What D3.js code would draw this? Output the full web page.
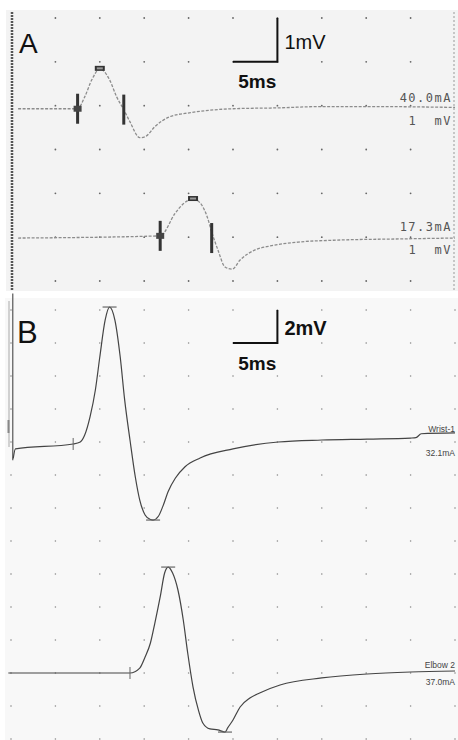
<!DOCTYPE html>
<html>
<head>
<meta charset="utf-8">
<title>Nerve conduction traces</title>
<script src="https://d3js.org/d3.v7.min.js"></script>
<style>
    body { margin: 0; background: #fff; }
    svg { display: block; }
    text { font-family: "Liberation Sans", Arial, sans-serif; }
    .mono { font-family: "DejaVu Sans Mono", monospace; }
</style>
</head>
<body>
<svg id="chart" width="458" height="740"></svg>
<script>
// time in ms, amplitude in mV relative to each trace's own baseline
const tA1 = [0.8, 7.5, 8.3, 9.1, 10.0, 11.1, 11.9, 12.7, 13.4, 14.5, 15.1, 16.2, 17.9, 20.2, 25.0, 30.1, 35.0, 40.1, 50.0];
const vA1 = [0, 0, 0.27, 0.66, 0.91, 0.66, 0.27, -0.02, -0.30, -0.66, -0.64, -0.41, -0.18, -0.09, 0, 0.02, 0.05, 0.05, 0.03];

const tA2 = [0.8, 16.8, 18.5, 19.4, 20.5, 21.3, 22.1, 22.6, 23.3, 24.1, 24.9, 25.8, 27.5, 29.2, 32.5, 36.3, 43.8, 50.0];
const vA2 = [0, 0.05, 0.57, 0.78, 0.89, 0.80, 0.48, 0.14, -0.27, -0.66, -0.71, -0.50, -0.27, -0.18, -0.09, -0.05, -0.02, 0];

const tB1 = [0.25, 0.5, 7.0, 7.8, 8.3, 8.9, 9.5, 10.0, 10.6, 11.1, 11.7, 12.3, 12.8, 13.4, 14.0, 14.5, 15.1, 15.7, 16.0, 16.6, 17.1, 17.7, 18.5, 19.6, 21.3, 25.0, 30.1, 35.0, 40.1, 45.0, 45.6, 46.2, 50.0];
const vB1 = [-1.0, -0.42, -0.12, 0, 0.42, 1.52, 3.15, 5.15, 7.39, 8.18, 7.39, 5.15, 2.55, 0.12, -2.12, -3.52, -4.42, -4.70, -4.73, -4.5, -3.9, -3.0, -2.2, -1.5, -0.97, -0.42, 0, 0.12, 0.18, 0.24, 0.26, 0.5, 0.55];

const tB2 = [-0.3, 13.4, 14.5, 15.1, 15.7, 16.2, 16.8, 17.3, 17.7, 18.2, 18.8, 19.4, 19.9, 20.5, 21.1, 21.6, 22.4, 23.3, 24.1, 24.4, 25.0, 25.8, 26.9, 28.0, 30.3, 35.0, 40.1, 45.0, 50.0];
const vB2 = [0, 0, 0.30, 0.97, 1.82, 3.03, 4.61, 6.06, 6.42, 6.06, 5.03, 3.21, 1.21, -0.85, -2.24, -3.03, -3.39, -3.45, -3.58, -3.33, -2.85, -2.06, -1.52, -1.21, -0.73, -0.30, -0.06, 0.06, 0.12];

// markers: [time, amplitude]
const barsA1 = [[7.5, 0], [12.7, -0.02]];
const peakA1 = [10.0, 0.91];
const barsA2 = [[16.8, 0.05], [22.6, 0]];
const peakA2 = [20.5, 0.89];
const onsetB = [[7.0, -0.12], [13.4, 0]];
const extremaB1 = [[11.1, 8.18], [16.0, -4.73]];
const extremaB2 = [[17.7, 6.42], [24.1, -3.58]];

// stimulus artifact in B (ms, top mV, bottom mV)
const artifactB1 = [0.2, 9.0, -1.1];

const labelsA1 = ["40.0mA", "1 mV"];
const labelsA2 = ["17.3mA", "1 mV"];
const labelsB1 = ["Wrist-1", "32.1mA"];
const labelsB2 = ["Elbow 2", "37.0mA"];

const svg = d3.select("#chart");

const x = d3.scaleLinear().domain([0, 50]).range([11, 455]);
const yA = d3.scaleLinear().domain([0, 6]).range([281, 18]);
const yB = d3.scaleLinear().domain([0, 26]).range([739, 310]);

// baseline levels of each trace on the panel scales
const baseA1 = 3.93, baseA2 = 0.98, baseB1 = 18, baseB2 = 4;

// ---------- panel A ----------
svg.append("rect").attr("x", 6).attr("y", 10).attr("width", 452).attr("height", 281).attr("fill", "#f3f3f3");
svg.append("line").attr("x1", 12).attr("x2", 12).attr("y1", 12).attr("y2", 290)
    .attr("stroke", "#555").attr("stroke-width", 2.5).attr("stroke-dasharray", "2,1");
svg.append("line").attr("x1", 454).attr("x2", 454).attr("y1", 12).attr("y2", 290)
    .attr("stroke", "#999").attr("stroke-width", 1).attr("stroke-dasharray", "2,2");

const gridA = [];
d3.range(5, 50, 5).forEach(t => d3.range(0, 7).forEach(v => gridA.push([t, v])));
svg.append("g").selectAll("circle").data(gridA).join("circle")
    .attr("cx", d => x(d[0])).attr("cy", d => yA(d[1])).attr("r", 0.9).attr("fill", "#666");

function traceA(ts, vs, base) {
    const pts = ts.map((t, i) => [t, vs[i] + base]);
    svg.append("path").datum(pts)
        .attr("fill", "none").attr("stroke", "#8c8c8c").attr("stroke-width", 1.3)
        .attr("stroke-dasharray", "3,1.5")
        .attr("d", d3.line().x(d => x(d[0])).y(d => yA(d[1])).curve(d3.curveMonotoneX));
}
traceA(tA1, vA1, baseA1);
traceA(tA2, vA2, baseA2);

function markersA(bars, peak, base) {
    const g = svg.append("g").attr("fill", "#333");
    bars.forEach(b => {
        g.append("rect").attr("x", x(b[0]) - 1.5).attr("y", yA(b[1] + base) - 15)
            .attr("width", 3).attr("height", 30);
    });
    const on = bars[0];
    g.append("rect").attr("x", x(on[0]) - 4).attr("y", yA(on[1] + base) - 3)
        .attr("width", 8).attr("height", 6).attr("fill", "#444");
    g.append("rect").attr("x", x(peak[0]) - 5).attr("y", yA(peak[1] + base) - 3)
        .attr("width", 10).attr("height", 5).attr("fill", "#333");
    g.append("rect").attr("x", x(peak[0]) - 3).attr("y", yA(peak[1] + base) - 1.5)
        .attr("width", 6).attr("height", 2).attr("fill", "#999");
}
markersA(barsA1, peakA1, baseA1);
markersA(barsA2, peakA2, baseA2);

function labelA(lines, base) {
    const y0 = yA(base);
    svg.append("text").attr("class", "mono").attr("x", 452).attr("y", y0 - 7)
        .attr("text-anchor", "end").attr("font-size", 12).attr("letter-spacing", 1.5)
        .attr("fill", "#555").text(lines[0]);
    svg.append("text").attr("class", "mono").attr("x", 452).attr("y", y0 + 16)
        .attr("text-anchor", "end").attr("font-size", 12).attr("letter-spacing", 1.5)
        .attr("fill", "#555").text(lines[1].replace(" ", "\u00a0\u00a0"));
}
labelA(labelsA1, baseA1);
labelA(labelsA2, baseA2);

// scale bar A: 5 ms x 1 mV
svg.append("path")
    .attr("d", `M${x(25)},${yA(5)}H${x(30)}V${yA(6)}`)
    .attr("fill", "none").attr("stroke", "#111").attr("stroke-width", 2);
svg.append("text").attr("x", x(30) + 7).attr("y", 49).attr("font-size", 20).attr("fill", "#111").text("1mV");
svg.append("text").attr("x", (x(25) + x(30)) / 2 + 2).attr("y", 88).attr("text-anchor", "middle")
    .attr("font-size", 19).attr("font-weight", "bold").attr("fill", "#111").text("5ms");
svg.append("text").attr("x", 19).attr("y", 53).attr("font-size", 28).attr("fill", "#111").text("A");

// ---------- panel B ----------
svg.append("rect").attr("x", 5).attr("y", 298).attr("width", 453).attr("height", 442).attr("fill", "#f8f8f8");
svg.append("line").attr("x1", 9).attr("x2", 9).attr("y1", 301).attr("y2", 447)
    .attr("stroke", "#aaa").attr("stroke-width", 1);
svg.append("line").attr("x1", 8.5).attr("x2", 8.5).attr("y1", 420).attr("y2", 433)
    .attr("stroke", "#888").attr("stroke-width", 2);

const gridB = [];
d3.range(0, 55, 5).forEach(t => d3.range(0, 28, 2).forEach(v => gridB.push([t, v])));
svg.append("g").selectAll("circle").data(gridB).join("circle")
    .attr("cx", d => x(d[0])).attr("cy", d => yB(d[1])).attr("r", 0.8).attr("fill", "#8a8a8a");

// artifact
svg.append("line")
    .attr("x1", x(artifactB1[0])).attr("x2", x(artifactB1[0]))
    .attr("y1", yB(artifactB1[1] + baseB1)).attr("y2", yB(artifactB1[2] + baseB1))
    .attr("stroke", "#555").attr("stroke-width", 1.2);

function traceB(ts, vs, base) {
    const pts = ts.map((t, i) => [t, vs[i] + base]);
    svg.append("path").datum(pts)
        .attr("fill", "none").attr("stroke", "#444").attr("stroke-width", 1.2)
        .attr("d", d3.line().x(d => x(d[0])).y(d => yB(d[1])).curve(d3.curveMonotoneX));
}
traceB(tB1, vB1, baseB1);
traceB(tB2, vB2, baseB2);

function markersB(onset, extrema, base) {
    svg.append("line").attr("x1", x(onset[0])).attr("x2", x(onset[0]))
        .attr("y1", yB(onset[1] + base) - 6).attr("y2", yB(onset[1] + base) + 6)
        .attr("stroke", "#666").attr("stroke-width", 1);
    extrema.forEach(e => {
        svg.append("line").attr("x1", x(e[0]) - 7).attr("x2", x(e[0]) + 7)
            .attr("y1", yB(e[1] + base)).attr("y2", yB(e[1] + base))
            .attr("stroke", "#666").attr("stroke-width", 1.2);
    });
}
markersB(onsetB[0], extremaB1, baseB1);
markersB(onsetB[1], extremaB2, baseB2);

function labelB(lines, yTop, yBot) {
    svg.append("text").attr("x", 455).attr("y", yTop).attr("text-anchor", "end")
        .attr("font-size", 8.5).attr("fill", "#444").text(lines[0]);
    svg.append("text").attr("x", 455).attr("y", yBot).attr("text-anchor", "end")
        .attr("font-size", 8.5).attr("fill", "#444").text(lines[1]);
}
labelB(labelsB1, yB(baseB1 + 0.55) - 1, yB(baseB1) + 14);
labelB(labelsB2, yB(baseB2 + 0.12) - 3, yB(baseB2) + 12);

// scale bar B: 5 ms x 2 mV
svg.append("path")
    .attr("d", `M${x(25)},${yB(24)}H${x(30)}V${yB(26)}`)
    .attr("fill", "none").attr("stroke", "#111").attr("stroke-width", 2);
svg.append("text").attr("x", x(30) + 7).attr("y", 335).attr("font-size", 20)
    .attr("font-weight", "bold").attr("fill", "#111").text("2mV");
svg.append("text").attr("x", (x(25) + x(30)) / 2 + 2).attr("y", 370).attr("text-anchor", "middle")
    .attr("font-size", 19).attr("font-weight", "bold").attr("fill", "#111").text("5ms");
svg.append("text").attr("x", 17).attr("y", 343).attr("font-size", 31).attr("fill", "#111").text("B");
</script>
</body>
</html>
